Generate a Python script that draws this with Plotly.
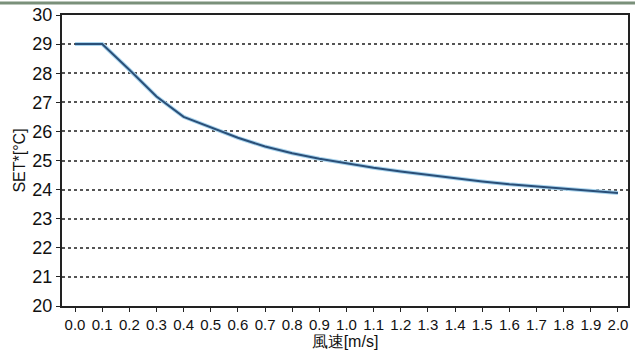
import plotly.graph_objects as go

wind_speed = [0.0, 0.1, 0.2, 0.3, 0.4, 0.5, 0.6, 0.7, 0.8, 0.9, 1.0,
              1.1, 1.2, 1.3, 1.4, 1.5, 1.6, 1.7, 1.8, 1.9, 2.0]
set_temp = [29.0, 29.0, 28.12, 27.2, 26.5, 26.13, 25.78, 25.48, 25.25, 25.06, 24.9,
            24.75, 24.62, 24.5, 24.38, 24.28, 24.18, 24.1, 24.02, 23.95, 23.88]
x_ticks = [round(i * 0.1, 1) for i in range(21)]
x_tick_labels = [f"{v:.1f}" for v in x_ticks]
y_ticks = list(range(20, 31))

fig = go.Figure()
fig.add_trace(go.Scatter(x=wind_speed, y=set_temp, mode="lines",
                         line=dict(color="#a9d4ee", width=4), hoverinfo="skip"))
fig.add_trace(go.Scatter(x=wind_speed, y=set_temp, mode="lines",
                         line=dict(color="#2a4f78", width=2)))

font = "Liberation Sans, Arial, sans-serif"
fig.update_layout(
    width=635, height=358,
    margin=dict(l=62, r=5, t=13, b=52),
    paper_bgcolor="white", plot_bgcolor="white",
    showlegend=False,
    font=dict(family=font, color="#111"),
    xaxis=dict(
        range=[-0.048, 2.037], tickvals=x_ticks, ticktext=x_tick_labels,
        ticks="outside", ticklen=4, tickcolor="#222", tickfont=dict(size=15),
        showgrid=False, zeroline=False,
        showline=True, linecolor="#222", linewidth=2, mirror=True,
        title=dict(text="風速[m/s]", font=dict(size=16), standoff=1),
    ),
    yaxis=dict(
        range=[20, 30], tickvals=y_ticks,
        ticks="outside", ticklen=4, tickcolor="#222", tickfont=dict(size=18),
        showgrid=True, gridcolor="#555", gridwidth=1.5, griddash="dot",
        zeroline=False,
        showline=True, linecolor="#222", linewidth=2, mirror=True,
        title=dict(text="SET*[°C]", font=dict(size=16), standoff=3),
    ),
    shapes=[dict(type="line", xref="paper", yref="paper", x0=-0.2, x1=1.2,
                 y0=1.041, y1=1.041, line=dict(color="#7a907a", width=3))],
)
fig.write_html("out.html")
